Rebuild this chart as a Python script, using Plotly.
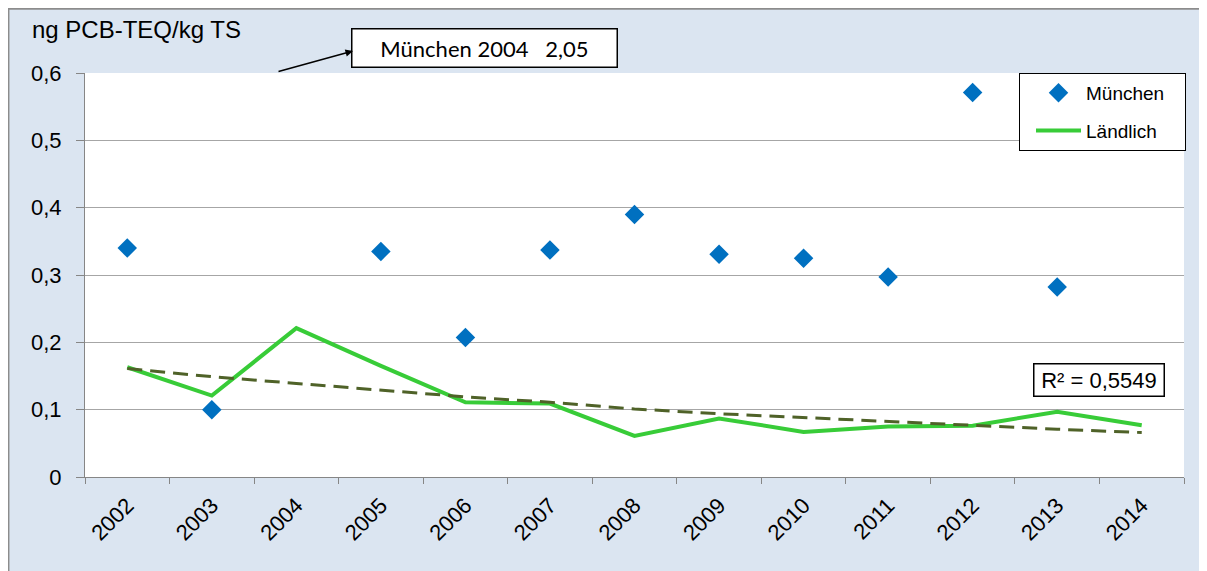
import plotly.graph_objects as go

years = [str(y) for y in range(2002, 2015)]
muenchen = [0.34, 0.10, 2.05, 0.335, 0.207, 0.337, 0.39, 0.331, 0.325, 0.297, 0.571, 0.282, None]
laendlich = [0.163, 0.121, 0.221, 0.165, 0.111, 0.109, 0.061, 0.087, 0.067, 0.075, 0.076, 0.097, 0.077]
trend = [0.161, 0.149, 0.139, 0.129, 0.119, 0.111, 0.101, 0.094, 0.088, 0.082, 0.076, 0.071, 0.066]
ytick_vals = [0, 0.1, 0.2, 0.3, 0.4, 0.5, 0.6]
ytick_text = ["0", "0,1", "0,2", "0,3", "0,4", "0,5", "0,6"]
r2_text = "R² = 0,5549"
y_title = "ng PCB-TEQ/kg TS"

# page body has an 8px margin: figure placed at (8, 8)
OFF = 8
W, H = 1215, 571 - OFF
L, R, T, B = 85 - OFF, 1184 - OFF, 73 - OFF, 477 - OFF
pw, ph = R - L, B - T


def px(x):
    return (x - OFF - L) / pw


def py(y):
    return (B - (y - OFF)) / ph


FONT = "Liberation Sans, Arial, sans-serif"
BG = "#dbe5f1"
NB = "\u00a0"

fig = go.Figure()

fig.add_trace(go.Scatter(
    x=years, y=laendlich, name="Ländlich" + NB * 3, mode="lines",
    line=dict(color="#38cc38", width=4), legendgroup="b", legendrank=2,
))
fig.add_trace(go.Scatter(
    x=years, y=trend, name="Trend", mode="lines", showlegend=False,
    line=dict(color="#4f6228", width=3, dash="15px,8px"),
))
fig.add_trace(go.Scatter(
    x=years, y=muenchen, name="München" + NB * 3, mode="markers",
    marker=dict(symbol="diamond", size=15, color="#0070c0"),
    legendgroup="a", legendrank=1, cliponaxis=True,
))

idx2004 = years.index("2004")
box_text = f"München 2004   {muenchen[idx2004]:.2f}".replace(".", ",")

fig.update_layout(
    width=W, height=H,
    margin=dict(l=L, r=W - R, t=T, b=H - B),
    paper_bgcolor=BG,
    plot_bgcolor="white",
    font=dict(family=FONT, size=21, color="black"),
    showlegend=True,
    legend=dict(
        x=px(1186), y=py(73), xanchor="right", yanchor="top",
        bgcolor="white", bordercolor="black", borderwidth=1,
        font=dict(size=19, family=FONT), itemwidth=45, tracegroupgap=10,
        indentation=11,
    ),
    shapes=[
        dict(type="line", xref="paper", yref="paper",
             x0=px(7), x1=px(1240), y0=py(8.5), y1=py(8.5),
             line=dict(color="#8c8c8c", width=2.5), layer="below"),
        dict(type="line", xref="paper", yref="paper",
             x0=px(8.2), x1=px(8.2), y0=py(8), y1=py(620),
             line=dict(color="#8c8c8c", width=2.5), layer="below"),
    ],
    annotations=[
        dict(text=y_title, xref="paper", yref="paper", x=px(30), y=py(30),
             xanchor="left", yanchor="middle", showarrow=False,
             font=dict(size=24, family=FONT)),
        dict(text=box_text, xref="paper", yref="paper", x=px(484), y=py(47.5),
             xanchor="center", yanchor="middle", showarrow=False,
             font=dict(size=22, family="Lato, Carlito, sans-serif"),
             bgcolor="white", bordercolor="black", borderwidth=1.5,
             width=262, height=35, borderpad=1),
        dict(text="", xref="paper", yref="paper", x=px(353), y=py(51),
             ax=-76, ay=21, showarrow=True, arrowhead=2, arrowsize=1,
             arrowwidth=1.5, arrowcolor="black", standoff=0),
        dict(text=r2_text, xref="paper", yref="paper", x=px(1098.5), y=py(380),
             xanchor="center", yanchor="middle", showarrow=False,
             font=dict(size=22, family=FONT),
             bgcolor="white", bordercolor="black", borderwidth=1.5,
             width=127, height=29, borderpad=1),
    ],
    xaxis=dict(
        type="category", categoryorder="array", categoryarray=years,
        range=[-0.5, len(years) - 0.5],
        tickangle=-45, tickson="boundaries", ticks="outside", ticklen=6,
        tickcolor="#868686", showline=True, linecolor="#868686", linewidth=1,
        showgrid=False, tickfont=dict(size=22, family=FONT),
        ticklabelstandoff=6,
    ),
    yaxis=dict(
        range=[0, 0.6], tickvals=ytick_vals, ticktext=ytick_text,
        ticks="outside", ticklen=8, tickcolor="#868686",
        showline=True, linecolor="#868686", linewidth=1,
        showgrid=True, gridcolor="#a6a6a6", gridwidth=1,
        zeroline=False, tickfont=dict(size=22, family=FONT),
        ticklabelstandoff=10,
    ),
)

fig.write_html(
    "out.html",
    post_script="document.documentElement.style.overflow='hidden';"
                "document.body.style.overflow='hidden';",
)
